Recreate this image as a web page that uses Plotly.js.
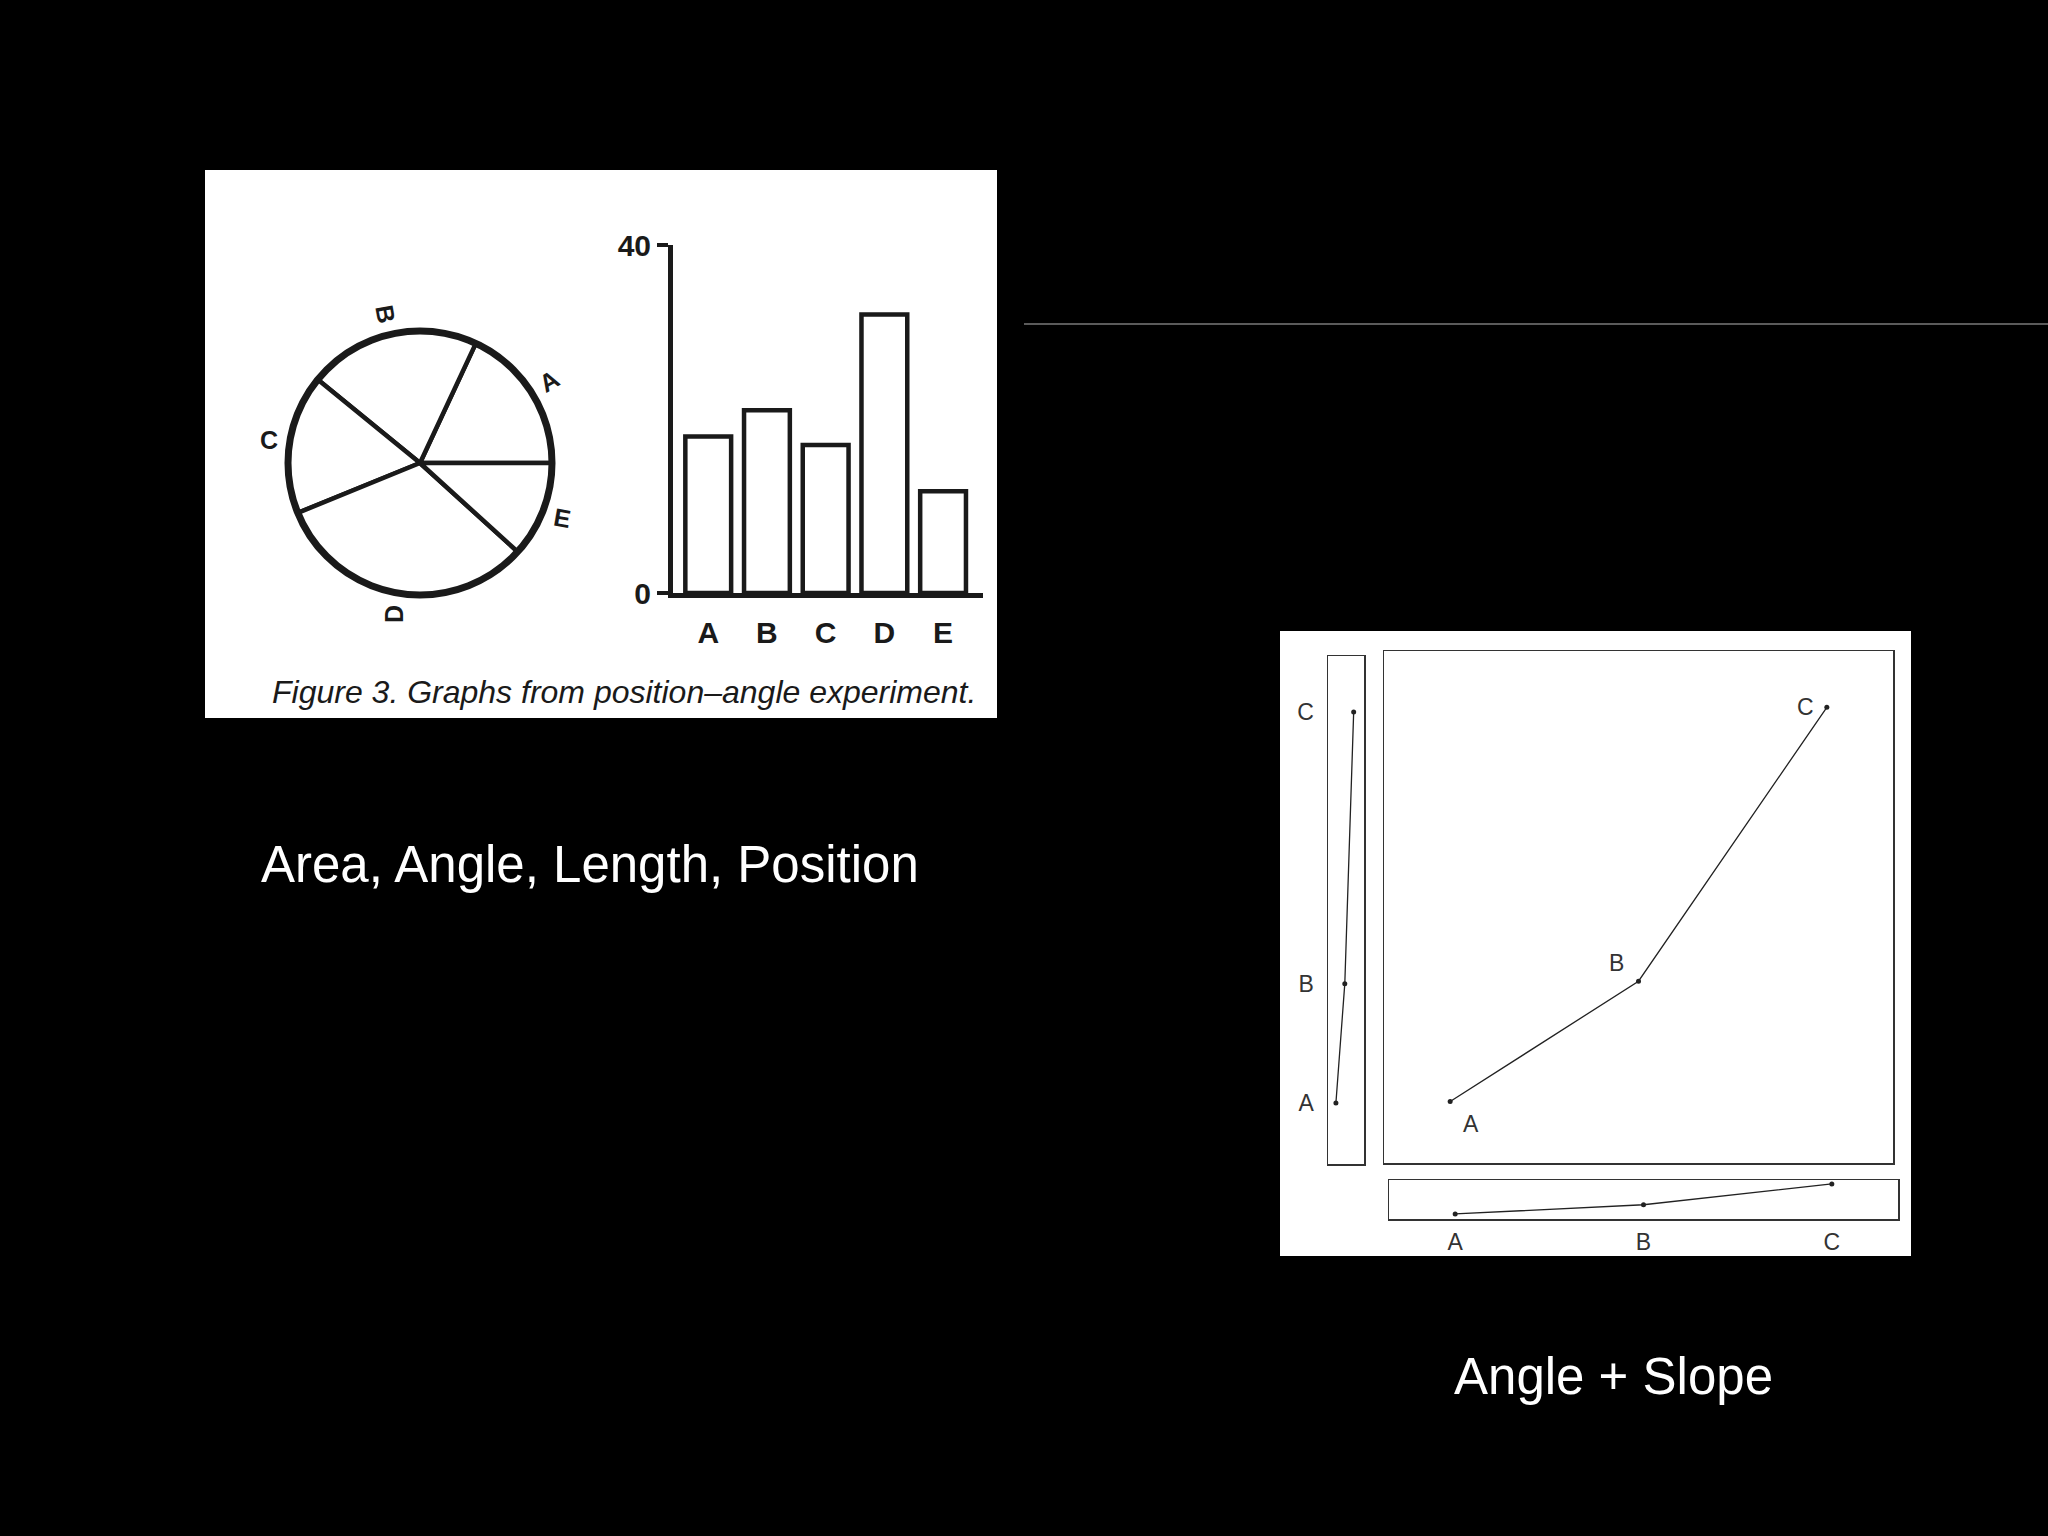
<!DOCTYPE html>
<html>
<head>
<meta charset="utf-8">
<script src="https://cdn.plot.ly/plotly-3.0.1.min.js"></script>
<style>
  html, body { margin: 0; padding: 0; background: #000; }
  #chart { width: 2048px; height: 1536px; }
</style>
</head>
<body>
<div id="chart"></div>
<script>
// ---------- data ----------
const categories = ['A', 'B', 'C', 'D', 'E'];
const shareValues = [18, 21, 17, 32, 11.7];
const barTickVals = [0, 40];
const barTickText = ['0', '40'];
const slopeLabels = ['A', 'B', 'C'];
const slopeX = [13, 50, 87];
const slopeY = [12, 35.5, 89];
const captionText = 'Figure 3. Graphs from position\u2013angle experiment.';
const leftTitle = 'Area, Angle, Length, Position';
const rightTitle = 'Angle + Slope';

// ---------- helpers (pixel -> paper) ----------
const W = 2048, H = 1536;
const X = p => p / W;
const Y = p => 1 - p / H;

const ink = '#1a1a1a';
const boldFont = {family: 'Liberation Sans, Arial, sans-serif', size: 30, color: ink, weight: 700};
const plotterFont = {family: 'Liberation Sans Narrow, Liberation Sans, Arial, sans-serif', size: 23, color: '#333'};

// pie geometry
const pieCx = 420, pieCy = 463, pieR = 132;
const total = shareValues.reduce((a, b) => a + b, 0);
// first slice's ccw side starts at 3 o'clock (plotly ccw: rotation marks first slice's far edge)
const pieRotation = 90 - shareValues[0] / total * 360;

const traces = [];

// pie
traces.push({
  type: 'pie',
  values: shareValues,
  labels: categories,
  sort: false,
  direction: 'counterclockwise',
  rotation: pieRotation,
  textinfo: 'none',
  hoverinfo: 'skip',
  showlegend: false,
  marker: {colors: categories.map(() => '#ffffff'), line: {color: ink, width: 4.5}},
  domain: {x: [X(pieCx - pieR), X(pieCx + pieR)], y: [Y(pieCy + pieR), Y(pieCy - pieR)]}
});
// thicker outer ring
traces.push({
  type: 'pie',
  values: [total],
  labels: ['all'],
  sort: false,
  textinfo: 'none',
  hoverinfo: 'skip',
  showlegend: false,
  marker: {colors: ['rgba(0,0,0,0)'], line: {color: ink, width: 7}},
  domain: {x: [X(pieCx - pieR), X(pieCx + pieR)], y: [Y(pieCy + pieR), Y(pieCy - pieR)]}
});

// bars
traces.push({
  type: 'bar',
  x: categories,
  y: shareValues,
  xaxis: 'x', yaxis: 'y',
  width: 0.78,
  marker: {color: '#ffffff', line: {color: ink, width: 4.5}},
  hoverinfo: 'skip',
  showlegend: false
});

// slope main
traces.push({
  type: 'scatter',
  x: slopeX, y: slopeY,
  xaxis: 'x2', yaxis: 'y2',
  mode: 'lines+markers',
  line: {color: '#222', width: 1.3},
  marker: {color: '#222', size: 5},
  hoverinfo: 'skip', showlegend: false, cliponaxis: false
});
// slope tall narrow
traces.push({
  type: 'scatter',
  x: slopeX, y: slopeY,
  xaxis: 'x3', yaxis: 'y3',
  mode: 'lines+markers',
  line: {color: '#222', width: 1.3},
  marker: {color: '#222', size: 5},
  hoverinfo: 'skip', showlegend: false, cliponaxis: false
});
// slope wide flat
traces.push({
  type: 'scatter',
  x: slopeX, y: slopeY,
  xaxis: 'x4', yaxis: 'y4',
  mode: 'lines+markers',
  line: {color: '#222', width: 1.3},
  marker: {color: '#222', size: 5},
  hoverinfo: 'skip', showlegend: false, cliponaxis: false
});

// pie labels positioned from data
const labelAngles = [-30, 80, 0, -90, 10];
const labelR = 153;
const annotations = [];
let acc = 0;
shareValues.forEach((v, i) => {
  const mid = (acc + v / 2) / total * 2 * Math.PI; // ccw from 3 o'clock
  acc += v;
  const px = pieCx + labelR * Math.cos(mid);
  const py = pieCy - labelR * Math.sin(mid);
  annotations.push({
    xref: 'paper', yref: 'paper', x: X(px), y: Y(py),
    xanchor: 'center', yanchor: 'middle', showarrow: false,
    text: categories[i], textangle: labelAngles[i],
    font: {family: 'Liberation Sans, Arial, sans-serif', size: 25, color: ink, weight: 700}
  });
});

// point labels in the main slope panel
const labelShift = [[21, -22], [-22, 18], [-21, 0]];
slopeLabels.forEach((t, i) => {
  annotations.push({
    xref: 'x2', yref: 'y2', x: slopeX[i], y: slopeY[i],
    xshift: labelShift[i][0], yshift: labelShift[i][1],
    xanchor: 'center', yanchor: 'middle', showarrow: false,
    text: t, font: plotterFont
  });
});

annotations.push({
  xref: 'paper', yref: 'paper', x: X(624), y: Y(692),
  xanchor: 'center', yanchor: 'middle', showarrow: false,
  text: captionText,
  font: {family: 'Liberation Sans, Arial, sans-serif', size: 32, color: ink, style: 'italic'}
});
annotations.push({
  xref: 'paper', yref: 'paper', x: X(590), y: Y(864),
  xanchor: 'center', yanchor: 'middle', showarrow: false,
  text: leftTitle,
  font: {family: 'Liberation Sans, Arial, sans-serif', size: 51, color: '#ffffff'}
});
annotations.push({
  xref: 'paper', yref: 'paper', x: X(1613), y: Y(1376),
  xanchor: 'center', yanchor: 'middle', showarrow: false,
  text: rightTitle,
  font: {family: 'Liberation Sans, Arial, sans-serif', size: 51, color: '#ffffff'}
});

const boxAxis = (extra) => Object.assign({
  showline: true, mirror: true, linecolor: '#333', linewidth: 1.5,
  showgrid: false, zeroline: false, ticks: '', showticklabels: false,
  fixedrange: true
}, extra);

const layout = {
  width: W, height: H,
  margin: {l: 0, r: 0, t: 0, b: 0, pad: 0},
  paper_bgcolor: '#000000',
  plot_bgcolor: 'rgba(0,0,0,0)',
  showlegend: false,
  xaxis: {
    domain: [X(673), X(983)], anchor: 'y',
    range: [-0.60, 4.68], type: 'category',
    showline: true, linecolor: ink, linewidth: 5,
    ticks: '', showgrid: false, zeroline: false,
    tickfont: boldFont, ticklabelstandoff: 9
  },
  yaxis: {
    domain: [Y(593), Y(245)], anchor: 'x',
    range: [0, 40],
    showline: true, linecolor: ink, linewidth: 5,
    ticks: 'outside', ticklen: 11, tickwidth: 4.5, tickcolor: ink,
    tickvals: barTickVals, ticktext: barTickText,
    showgrid: false, zeroline: false, tickfont: boldFont
  },
  xaxis2: boxAxis({domain: [X(1384), X(1893)], anchor: 'y2', range: [0, 100]}),
  yaxis2: boxAxis({domain: [Y(1163), Y(651)], anchor: 'x2', range: [0, 100]}),
  xaxis3: boxAxis({domain: [X(1328), X(1364)], anchor: 'y3', range: [-20, 130]}),
  yaxis3: boxAxis({domain: [Y(1164), Y(656)], anchor: 'x3', range: [0, 100],
    showticklabels: true, tickvals: slopeY, ticktext: slopeLabels, tickfont: plotterFont, ticklabelstandoff: 8}),
  xaxis4: boxAxis({domain: [X(1389), X(1898)], anchor: 'y4', range: [0, 100],
    showticklabels: true, tickvals: slopeX, ticktext: slopeLabels, tickfont: plotterFont, ticklabelstandoff: 2}),
  yaxis4: boxAxis({domain: [Y(1219), Y(1180)], anchor: 'x4', range: [-1, 99]}),
  shapes: [
    {type: 'rect', xref: 'paper', yref: 'paper', x0: X(205), x1: X(997), y0: Y(718), y1: Y(170),
     fillcolor: '#ffffff', line: {width: 0}, layer: 'below'},
    {type: 'rect', xref: 'paper', yref: 'paper', x0: X(1280), x1: X(1911), y0: Y(1256), y1: Y(631),
     fillcolor: '#ffffff', line: {width: 0}, layer: 'below'},
    {type: 'line', xref: 'paper', yref: 'paper', x0: X(1024), x1: X(2048), y0: Y(324), y1: Y(324),
     line: {color: '#7a7a7a', width: 1.5}, layer: 'below'}
  ],
  annotations: annotations
};

Plotly.newPlot('chart', traces, layout, {staticPlot: true, displayModeBar: false});
</script>
</body>
</html>
